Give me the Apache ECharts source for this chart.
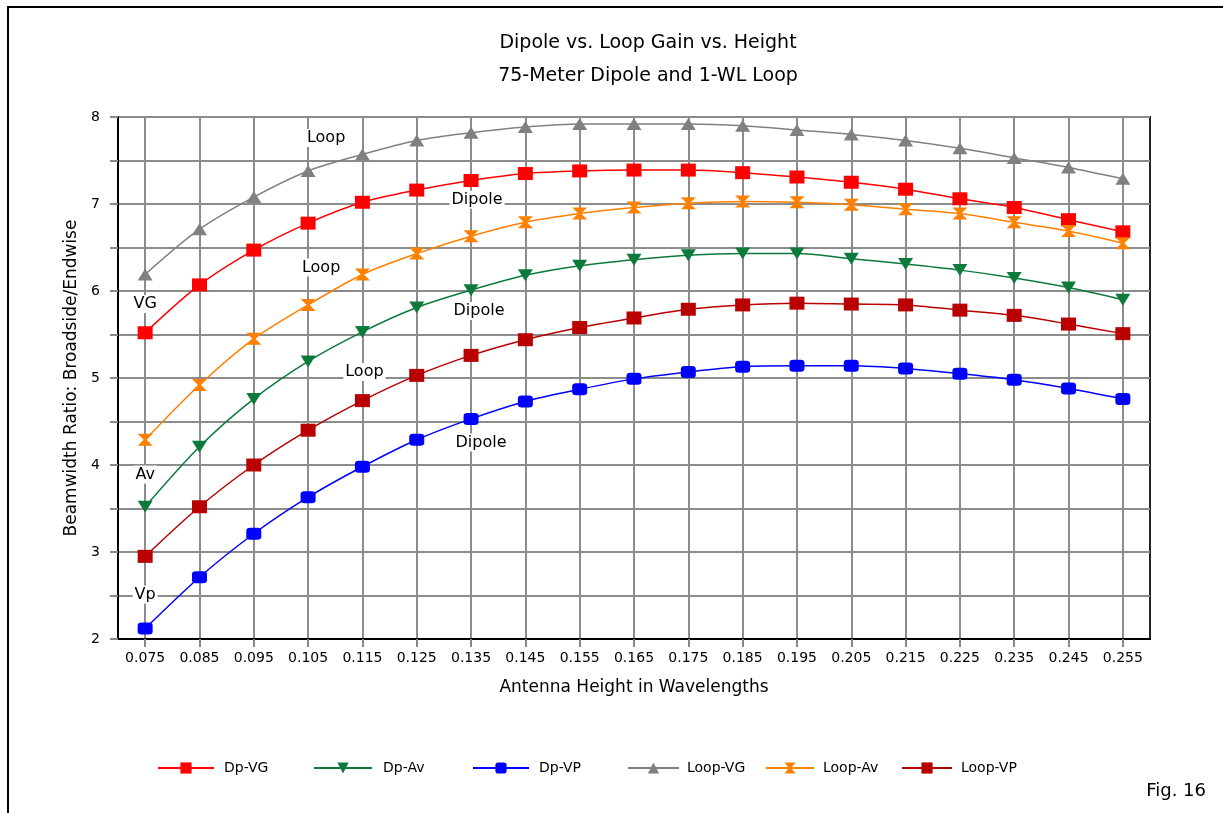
<!DOCTYPE html>
<html>
<head>
<meta charset="utf-8">
<script src="https://cdn.jsdelivr.net/npm/echarts@6/dist/echarts.min.js"></script>
<style>html,body{margin:0;padding:0;background:#fff;}#c{width:1223px;height:813px;}</style>
</head>
<body>
<div id="c"></div>
<script>
const categories = ['0.075','0.085','0.095','0.105','0.115','0.125','0.135','0.145','0.155','0.165','0.175','0.185','0.195','0.205','0.215','0.225','0.235','0.245','0.255'];
const dpVG   = [5.52,6.07,6.47,6.78,7.02,7.16,7.27,7.35,7.38,7.39,7.39,7.36,7.31,7.25,7.17,7.06,6.96,6.82,6.68];
const dpAv   = [3.52,4.21,4.76,5.19,5.53,5.81,6.01,6.18,6.29,6.36,6.41,6.43,6.43,6.37,6.31,6.24,6.15,6.04,5.90];
const dpVP   = [2.12,2.71,3.21,3.63,3.98,4.29,4.53,4.73,4.87,4.99,5.07,5.13,5.14,5.14,5.11,5.05,4.98,4.88,4.76];
const loopVG = [6.19,6.71,7.08,7.38,7.57,7.73,7.82,7.885,7.92,7.92,7.92,7.90,7.85,7.80,7.73,7.64,7.53,7.42,7.29];
const loopAv = [4.29,4.92,5.45,5.84,6.19,6.43,6.63,6.79,6.89,6.96,7.01,7.03,7.02,6.99,6.94,6.89,6.79,6.69,6.55];
const loopVP = [2.95,3.52,4.00,4.40,4.74,5.03,5.26,5.44,5.58,5.69,5.79,5.84,5.86,5.85,5.84,5.78,5.72,5.62,5.51];
const seriesNames = ['Dp-VG','Dp-Av','Dp-VP','Loop-VG','Loop-Av','Loop-VP'];
// annotation labels: [text, category, value]
const notes = [
  ['Loop','0.105',7.76],
  ['Dipole','0.135',7.05],
  ['VG','0.075',5.85],
  ['Loop','0.105',6.27],
  ['Dipole','0.135',5.77],
  ['Loop','0.115',5.07],
  ['Dipole','0.135',4.26],
  ['Av','0.075',3.89],
  ['Vp','0.075',2.51]
];
const noteOffsets = [[18,0],[6,0],[0,0],[13,0],[8,0],[2,0],[10,0],[0,0],[0,0]];

const FONT = '"DejaVu Sans", "Liberation Sans", Arial, sans-serif';
const hourglass = 'path://M0,0 L10,0 L6,5 L10,10 L0,10 L4,5 Z';

function mkSeries(name, data, color, symbol, size, extra) {
  return Object.assign({
    name: name, type: 'line', data: data,
    symbol: symbol, symbolSize: size, smooth: 0.3,
    itemStyle: { color: color },
    lineStyle: { color: color, width: 1.5 },
    z: 3
  }, extra || {});
}

// legend layout: [left, line width, text padding]
const legendPos = [[152,56,5],[308,58,6],[467,56,5],[622,51,3],[760,48,4],[896,50,4]];

const chart = echarts.init(document.getElementById('c'), null, { renderer: 'canvas' });
const option = {
  backgroundColor: '#fff',
  animation: false,
  title: {
    text: 'Dipole vs. Loop Gain vs. Height\n75-Meter Dipole and 1-WL Loop',
    left: 643, top: 22, textAlign: 'center',
    textStyle: { fontFamily: FONT, fontSize: 19, fontWeight: 'normal', color: '#000', lineHeight: 33 }
  },
  legend: seriesNames.map((n, i) => ({
    data: [n], left: legendPos[i][0], top: 756,
    itemWidth: legendPos[i][1], itemHeight: 14,
    textStyle: { fontFamily: FONT, fontSize: 14, color: '#000', padding: [0,0,0,legendPos[i][2]] }
  })),
  grid: {
    left: 118, right: 73, top: 117, bottom: 174,
    show: true, borderColor: '#222', borderWidth: 2, containLabel: false
  },
  xAxis: {
    type: 'category', data: categories, boundaryGap: true,
    name: 'Antenna Height in Wavelengths', nameLocation: 'middle', nameGap: 40,
    nameTextStyle: { fontFamily: FONT, fontSize: 17, color: '#000' },
    axisLine: { lineStyle: { color: '#000', width: 2 } },
    axisTick: { show: true, alignWithLabel: true, length: 8, lineStyle: { color: '#888', width: 2 } },
    axisLabel: { fontFamily: FONT, fontSize: 14, color: '#000', margin: 12, interval: 0 },
    splitLine: { show: true, alignWithLabel: true, lineStyle: { color: '#8c8c8c', width: 2 } }
  },
  yAxis: {
    type: 'value', min: 2, max: 8, interval: 0.5,
    name: 'Beamwidth Ratio: Broadside/Endwise', nameLocation: 'middle', nameGap: 34,
    nameTextStyle: { fontFamily: FONT, fontSize: 17, color: '#000' },
    axisLine: { show: true, lineStyle: { color: '#000', width: 2 } },
    axisTick: { show: true, length: 8, lineStyle: { color: '#888', width: 2 } },
    axisLabel: { fontFamily: FONT, fontSize: 14, color: '#000', margin: 18,
      formatter: v => (Number.isInteger(v) ? String(v) : '') },
    splitLine: { show: true, lineStyle: { color: '#8c8c8c', width: 2 } }
  },
  graphic: [
    { type: 'polyline', shape: { points: [[8,830],[8,7],[1240,7]] }, style: { stroke: '#000', lineWidth: 2, fill: null }, silent: true },
    { type: 'text', right: 17, top: 782, style: { text: 'Fig. 16', font: '18px "DejaVu Sans", Arial', fill: '#000' } }
  ],
  series: [
    mkSeries('Dp-VG', dpVG, '#ff0000', 'rect', [15,13], {
      markPoint: {
        symbol: 'rect', symbolSize: 0, silent: true,
        label: { show: true, fontFamily: FONT, fontSize: 16, color: '#000', backgroundColor: '#fff', padding: [1,2] },
        data: notes.map((n, i) => ({
          coord: [n[1], n[2]], value: n[0],
          label: { formatter: n[0], offset: noteOffsets[i] }
        }))
      }
    }),
    mkSeries('Dp-Av', dpAv, '#0b7a3a', 'path://M0,0 L10,0 L5,9 Z', [15,12]),
    mkSeries('Dp-VP', dpVP, '#0000ff', 'roundRect', [15,12]),
    mkSeries('Loop-VG', loopVG, '#808080', 'triangle', [15,12]),
    mkSeries('Loop-Av', loopAv, '#ff8000', hourglass, [15,12]),
    mkSeries('Loop-VP', loopVP, '#b80000', 'rect', [15,13])
  ]
};
chart.setOption(option);
</script>
</body>
</html>
